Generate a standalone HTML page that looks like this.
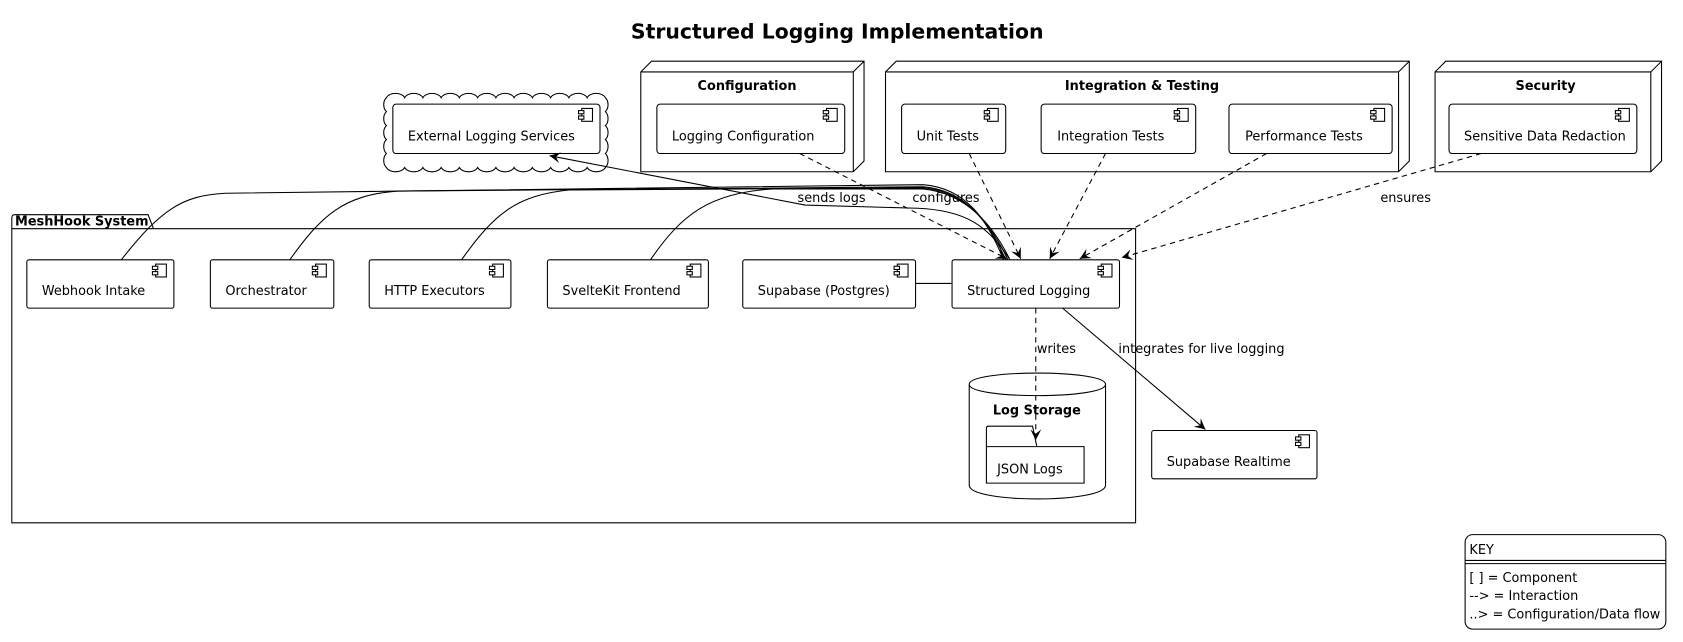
<!DOCTYPE html>
<html><head><meta charset="utf-8"><style>
html,body{margin:0;padding:0;background:#fff;}
svg{display:block;}
text{font-family:"DejaVu Sans","Liberation Sans",sans-serif;font-size:12px;fill:#000;stroke:none;}
.b{font-weight:bold;}
</style></head><body>
<svg width="1683" height="642" viewBox="0 0 1568 598" preserveAspectRatio="none" xmlns="http://www.w3.org/2000/svg">
<defs>
<marker id="a" markerWidth="12" markerHeight="12" refX="10" refY="5" orient="auto" markerUnits="userSpaceOnUse"><path d="M0,0 L10,5 L0,10 L4,5 Z" fill="#000"/></marker>
<g id="ic"><rect x="0" y="0" width="10" height="12" fill="#fff" stroke="#000" stroke-width="1"/><rect x="-3" y="2" width="5" height="3" fill="#fff" stroke="#000" stroke-width="1"/><rect x="-3" y="7" width="5" height="3" fill="#fff" stroke="#000" stroke-width="1"/></g>
</defs>
<text x="780" y="36" text-anchor="middle" class="b" style="font-size:19px">Structured Logging Implementation</text>
<g fill="none" stroke="#000" stroke-width="1">

<!-- cloud -->
<path d="M360,91 a9,6 0 0 1 17,0 a9,6 0 0 1 17,0 a9,6 0 0 1 17,0 a9,6 0 0 1 17,0 a9,6 0 0 1 17,0 a9,6 0 0 1 17,0 a9,6 0 0 1 17,0 a9,6 0 0 1 17,0 a9,6 0 0 1 17,0 a9,6 0 0 1 17,0 a9,6 0 0 1 17,0 a9,6 0 0 1 17,0 a6,8 0 0 1 0,13 a6,8 0 0 1 0,13 a6,8 0 0 1 0,13 a6,8 0 0 1 0,13 a6,8 0 0 1 0,13 a9,6 0 0 1 -17,0 a9,6 0 0 1 -17,0 a9,6 0 0 1 -17,0 a9,6 0 0 1 -17,0 a9,6 0 0 1 -17,0 a9,6 0 0 1 -17,0 a9,6 0 0 1 -17,0 a9,6 0 0 1 -17,0 a9,6 0 0 1 -17,0 a9,6 0 0 1 -17,0 a9,6 0 0 1 -17,0 a9,6 0 0 1 -17,0 a6,8 0 0 1 0,-13 a6,8 0 0 1 0,-13 a6,8 0 0 1 0,-13 a6,8 0 0 1 0,-13 a6,8 0 0 1 0,-13 Z" fill="#fff"/>
<rect x="366" y="97" width="193" height="46" rx="3" fill="#fff"/>
<use href="#ic" x="542" y="101"/>
<text x="380" y="131">External Logging Services</text>

<!-- nodes -->
<path d="M597,160 V67 L607,57 H805 V150 L795,160 Z M597,67 H795 V160 M795,67 L805,57"/>
<text x="696" y="84" text-anchor="middle" class="b">Configuration</text>
<rect x="612" y="97" width="175" height="46" rx="3"/><use href="#ic" x="770" y="101"/>
<text x="626" y="131">Logging Configuration</text>

<path d="M825,160 V67 L835,57 H1313 V150 L1303,160 Z M825,67 H1303 V160 M1303,67 L1313,57"/>
<text x="1064" y="84" text-anchor="middle" class="b">Integration &amp; Testing</text>
<rect x="840" y="97" width="97" height="46" rx="3"/><use href="#ic" x="920" y="101"/>
<text x="854" y="131">Unit Tests</text>
<rect x="970" y="97" width="144" height="46" rx="3"/><use href="#ic" x="1097" y="101"/>
<text x="985" y="131">Integration Tests</text>
<rect x="1145" y="97" width="152" height="46" rx="3"/><use href="#ic" x="1280" y="101"/>
<text x="1160" y="131">Performance Tests</text>

<path d="M1337,160 V67 L1347,57 H1548 V150 L1538,160 Z M1337,67 H1538 V160 M1538,67 L1548,57"/>
<text x="1440" y="84" text-anchor="middle" class="b">Security</text>
<rect x="1350" y="97" width="175" height="46" rx="3"/><use href="#ic" x="1508" y="101"/>
<text x="1364" y="131">Sensitive Data Redaction</text>

<!-- package -->
<path d="M11,213 V203 Q11,200 14,200 H138 L143,213 H1058 V487 H11 Z M11,213 H143"/>
<text x="14" y="210" class="b">MeshHook System</text>

<rect x="25" y="242" width="137" height="45" rx="2"/><use href="#ic" x="145" y="246"/>
<text x="39" y="275">Webhook Intake</text>
<rect x="196" y="242" width="115" height="45" rx="2"/><use href="#ic" x="294" y="246"/>
<text x="210" y="275">Orchestrator</text>
<rect x="344" y="242" width="132" height="45" rx="2"/><use href="#ic" x="459" y="246"/>
<text x="358" y="275">HTTP Executors</text>
<rect x="510" y="242" width="150" height="45" rx="2"/><use href="#ic" x="643" y="246"/>
<text x="524" y="275">SvelteKit Frontend</text>
<rect x="692" y="242" width="161" height="45" rx="2"/><use href="#ic" x="836" y="246"/>
<text x="706" y="275">Supabase (Postgres)</text>
<rect x="887" y="242" width="156" height="45" rx="2"/><use href="#ic" x="1026" y="246"/>
<text x="901" y="275">Structured Logging</text>

<!-- cylinder -->
<path d="M903,358 C903,344 1030,344 1030,358 V452 C1030,469 903,469 903,452 Z M903,358 C903,372 1030,372 1030,358"/>
<text x="966" y="386" text-anchor="middle" class="b">Log Storage</text>
<path d="M919,416 V399 Q919,397 921,397 H962 L966,416 H1010 V450 H919 Z M919,416 H966"/>
<text x="929" y="441">JSON Logs</text>

<rect x="1073" y="401" width="154" height="45" rx="2"/><use href="#ic" x="1210" y="405"/>
<text x="1087" y="434">Supabase Realtime</text>

<!-- KEY -->
<rect x="1365" y="498" width="187" height="88" rx="7"/>
<line x1="1365" y1="522" x2="1552" y2="522"/><line x1="1365" y1="525" x2="1552" y2="525"/>
<text x="1369" y="516">KEY</text>
<text x="1369" y="542">[ ] = Component</text>
<text x="1369" y="559">--&gt; = Interaction</text>
<text x="1369" y="576">..&gt; = Configuration/Data flow</text>

<!-- connectors -->
<path d="M113,242 C150,195 170,182 210,180 L860,172 C900,175 920,205 935,242"/>
<path d="M270,242 C300,200 320,182 370,178 L860,174 C900,177 922,208 937,242"/>
<path d="M430,242 C460,200 480,182 530,177 L860,175 C900,178 924,210 939,242"/>
<path d="M606,242 C635,200 660,180 720,176 L860,176 C902,180 926,212 941,242"/>
<path d="M941,242 C920,210 900,196 855,194 L750,191 L512,145" marker-end="url(#a)"/>
<path d="M745,143 L938,241" stroke-dasharray="5,4" marker-end="url(#a)"/>
<path d="M903,143 L951,241" stroke-dasharray="5,4" marker-end="url(#a)"/>
<path d="M1030,143 L978,241" stroke-dasharray="5,4" marker-end="url(#a)"/>
<path d="M1180,143 L1006,241" stroke-dasharray="5,4" marker-end="url(#a)"/>
<path d="M1380,143 L1045,240" stroke-dasharray="5,4" marker-end="url(#a)"/>
<line x1="853" y1="264" x2="887" y2="264"/>
<path d="M965,287 L965,410" stroke-dasharray="5,4" marker-end="url(#a)"/>
<path d="M990,287 L1123,400" marker-end="url(#a)"/>
</g>
<text x="743" y="188">sends logs</text>
<text x="850" y="188">configures</text>
<text x="1286" y="188">ensures</text>
<text x="966" y="329">writes</text>
<text x="1042" y="329">integrates for live logging</text>
</svg>
</body></html>
